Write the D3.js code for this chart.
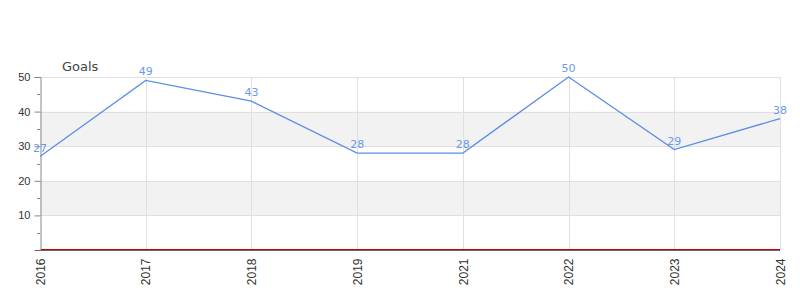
<!DOCTYPE html>
<html>
<head>
<meta charset="utf-8">
<script src="https://cdn.jsdelivr.net/npm/d3@7"></script>
<style>
  body { margin: 0; background: #fff; }
  svg { display: block; font-family: "DejaVu Sans", sans-serif; }
</style>
</head>
<body>
<script>
"use strict";
// chart data
const years = ["2016", "2017", "2018", "2019", "2021", "2022", "2023", "2024"];
const goals = [27, 49, 43, 28, 28, 50, 29, 38];
const yTicks = [10, 20, 30, 40, 50];
const bands = [[10, 20], [30, 40]];

const width = 800, height = 300;
const m = { left: 40, right: 20, top: 77, bottom: 50 };

const svg = d3.select("body").append("svg")
    .attr("width", width)
    .attr("height", height);

const x = d3.scalePoint()
    .domain(years)
    .range([m.left, width - m.right]);

const y = d3.scaleLinear()
    .domain([0, 50])
    .range([height - m.bottom, m.top]);

// shaded bands
svg.selectAll(".band")
    .data(bands)
    .enter()
    .append("rect")
    .attr("x", m.left)
    .attr("width", width - m.right - m.left)
    .attr("y", d => y(d[1]))
    .attr("height", d => y(d[0]) - y(d[1]))
    .attr("fill", "#f2f2f2");

// horizontal grid
svg.selectAll(".hgrid")
    .data(yTicks)
    .enter()
    .append("line")
    .attr("x1", m.left)
    .attr("x2", width - m.right)
    .attr("y1", d => Math.round(y(d)) + 0.5)
    .attr("y2", d => Math.round(y(d)) + 0.5)
    .attr("stroke", "#e0e0e0");

// vertical grid
svg.selectAll(".vgrid")
    .data(years.slice(1))
    .enter()
    .append("line")
    .attr("x1", d => Math.round(x(d)) + 0.5)
    .attr("x2", d => Math.round(x(d)) + 0.5)
    .attr("y1", y(50))
    .attr("y2", y(0))
    .attr("stroke", "#e0e0e0");

// y axis
const yAxis = svg.append("g")
    .attr("transform", `translate(${m.left + 0.5},0)`)
    .call(d3.axisLeft(y).tickValues(yTicks).tickSize(6).tickPadding(4));
yAxis.select(".domain").attr("stroke", "#888");
yAxis.selectAll(".tick line").attr("stroke", "#888");
yAxis.selectAll(".tick text").attr("fill", "#333").style("font-size", "11px");

// minor ticks
svg.selectAll(".minor")
    .data([5, 15, 25, 35, 45])
    .enter()
    .append("line")
    .attr("x1", m.left - 3)
    .attr("x2", m.left)
    .attr("y1", d => Math.round(y(d)) + 0.5)
    .attr("y2", d => Math.round(y(d)) + 0.5)
    .attr("stroke", "#888");

// x axis
const xAxis = svg.append("g")
    .attr("transform", `translate(0,${y(0) + 0.5})`)
    .call(d3.axisBottom(x).tickSize(0).tickPadding(6));
xAxis.select(".domain").remove();
xAxis.append("line")
    .attr("x1", m.left - 5)
    .attr("x2", width - m.right)
    .attr("stroke", "#666");
xAxis.selectAll(".tick text")
    .attr("fill", "#333")
    .style("font-size", "12px")
    .attr("transform", "rotate(-90)")
    .attr("text-anchor", "end")
    .attr("dy", "0.35em")
    .attr("x", -8)
    .attr("y", 0);

// zero line
svg.append("line")
    .attr("x1", m.left + 1)
    .attr("x2", width - m.right)
    .attr("y1", y(0) - 0.5)
    .attr("y2", y(0) - 0.5)
    .attr("stroke", "#d00000");

// line
svg.append("path")
    .datum(goals)
    .attr("fill", "none")
    .attr("stroke", "#5b8ee6")
    .attr("stroke-width", 1.3)
    .attr("d", d3.line()
        .x((d, i) => x(years[i]))
        .y(d => y(d)));

// value labels
svg.selectAll(".val")
    .data(goals)
    .enter()
    .append("text")
    .attr("x", (d, i) => x(years[i]))
    .attr("y", d => y(d) - 5)
    .attr("text-anchor", "middle")
    .attr("fill", "#6a9ae8")
    .style("font-size", "11px")
    .text(d => d);

// series title
svg.append("text")
    .attr("x", 62)
    .attr("y", 71)
    .attr("fill", "#444")
    .style("font-size", "13px")
    .text("Goals");
</script>
</body>
</html>
